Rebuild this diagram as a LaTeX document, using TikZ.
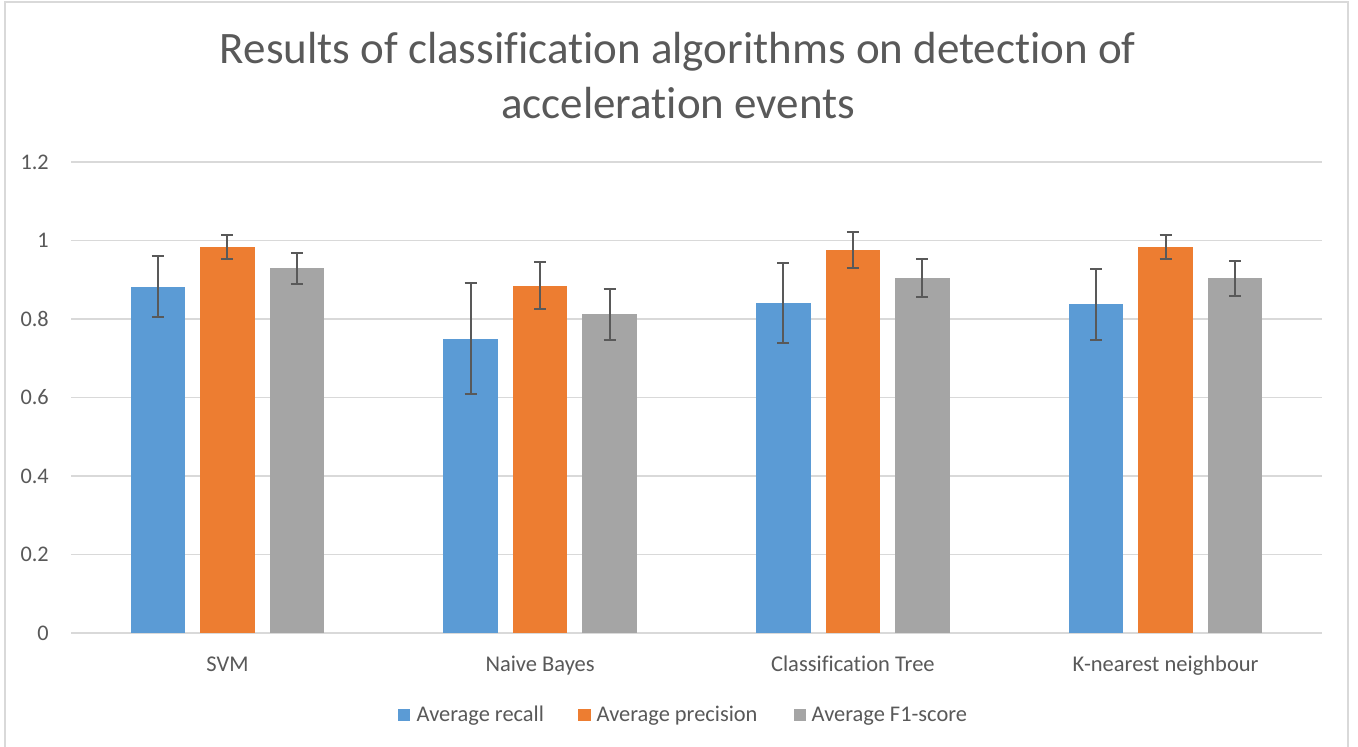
\documentclass[tikz,border=0pt]{standalone}
\usepackage{fontspec}
\setmainfont{Carlito}[Ligatures=NoCommon]
\definecolor{recallc}{HTML}{5B9BD5}
\definecolor{precc}{HTML}{ED7D31}
\definecolor{f1c}{HTML}{A5A5A5}
\definecolor{gridc}{HTML}{D9D9D9}
\definecolor{textc}{HTML}{595959}
\definecolor{framec}{HTML}{D9D9D9}
\tikzset{
  gridline/.style={gridc, line width=1.5pt},
  ticklabel/.style={text=textc, font=\fontsize{22.3}{26}\selectfont, anchor=base east, inner sep=0pt},
  catlabel/.style={text=textc, font=\fontsize{22.5}{26}\selectfont, anchor=base, inner sep=0pt},
  legendlabel/.style={text=textc, font=\fontsize{22.4}{26}\selectfont, anchor=base west, inner sep=0pt},
  titlelabel/.style={text=textc, font=\fontsize{45}{54}\selectfont, anchor=base, inner sep=0pt},
  errbar/.style={draw=textc, line width=2pt},
  legendkey/.style={minimum size=12.5pt, inner sep=0pt, anchor=south west},
}
% value -> vertical position: 0 at 633, 1 at 240.5
\newcommand{\ypos}[1]{633-392.5*#1}
% \drawbarerr{centre x}{mean}{half error}{colour}
\newcommand{\drawbarerr}[4]{%
  \fill[#4] ({#1-27.25},633) rectangle ({#1+27.25},{\ypos{#2}});
  \draw[errbar] (#1,{\ypos{(#2-#3)}}) -- (#1,{\ypos{(#2+#3)}});
  \draw[errbar] ({#1-6},{\ypos{(#2-#3)}}) -- ({#1+6},{\ypos{(#2-#3)}});
  \draw[errbar] ({#1-6},{\ypos{(#2+#3)}}) -- ({#1+6},{\ypos{(#2+#3)}});
}
\begin{document}
\begin{tikzpicture}[x=1pt,y=-1pt]
\useasboundingbox (0,0) rectangle (1358,747);
\fill[white] (0,0) rectangle (1358,747);
% chart frame
\draw[framec, line width=1.5pt] (5,760) -- (5,2) -- (1348,2) -- (1348,760);

% title
\node[titlelabel] (title1) at (678,63) {Results of classification algorithms on detection of};
\node[titlelabel] (title2) at (678,118) {acceleration events};

% horizontal grid and value axis labels
\foreach \i/\lab in {0/0,1/0.2,2/0.4,3/0.6,4/0.8,5/1,6/1.2} {
  \draw[gridline] (71,{633-78.5*\i}) -- (1322,{633-78.5*\i});
  \node[ticklabel] (tick\i) at (49,{633-78.5*\i+7}) {\lab};
}

% bars with error bars, one group per classifier
\foreach \k/\r/\re/\p/\pe/\f/\fe in {
  0/0.882/0.078/0.984/0.031/0.929/0.039,
  1/0.750/0.142/0.885/0.060/0.812/0.065,
  2/0.841/0.101/0.976/0.045/0.904/0.048,
  3/0.837/0.091/0.984/0.031/0.904/0.045} {
  \pgfmathsetmacro{\cx}{71+312.75*(\k+0.5)}
  \drawbarerr{\cx-69.5}{\r}{\re}{recallc}
  \drawbarerr{\cx}{\p}{\pe}{precc}
  \drawbarerr{\cx+69.5}{\f}{\fe}{f1c}
}

% category labels
\node[catlabel] (cat0) at (227.4,671) {SVM};
\node[catlabel] (cat1) at (540.1,671) {Naive Bayes};
\node[catlabel] (cat2) at (852.9,671) {Classification Tree};
\node[catlabel] (cat3) at (1165.6,671) {K-nearest neighbour};

% legend
\node[legendkey, fill=recallc] (keyr) at (397.3,721.5) {};
\node[legendlabel] (legr) at (416.5,721.5) {Average recall};
\node[legendkey, fill=precc] (keyp) at (578,721.5) {};
\node[legendlabel] (legp) at (596.5,721.5) {Average precision};
\node[legendkey, fill=f1c] (keyf) at (793.5,721.5) {};
\node[legendlabel] (legf) at (811.5,721.5) {Average F1-score};
\end{tikzpicture}
\end{document}
